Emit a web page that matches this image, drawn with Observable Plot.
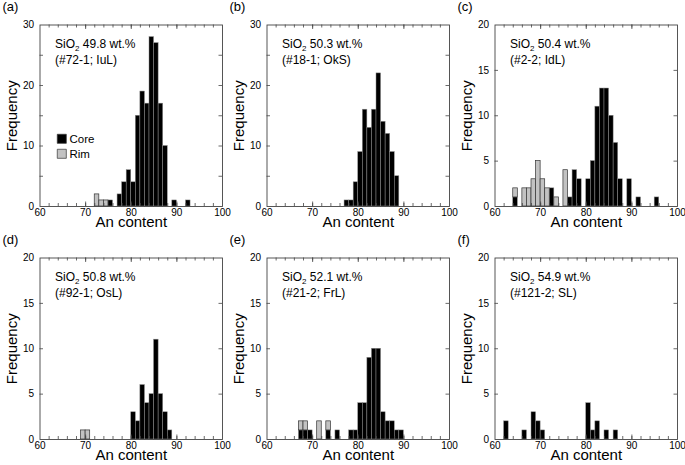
<!DOCTYPE html>
<html><head><meta charset="utf-8">
<script src="https://cdn.jsdelivr.net/npm/d3@7"></script>
<script src="https://cdn.jsdelivr.net/npm/@observablehq/plot@0.6"></script>
<style>
body{margin:0;background:#fff}
#chart{position:relative;width:685px;height:465px;font-family:"Liberation Sans",Arial,Helvetica,sans-serif}
#chart svg{position:absolute}
</style>
</head><body><div id="chart"></div>
<script>
// ---- data ----
const panelLetters = ["(a)", "(b)", "(c)", "(d)", "(e)", "(f)"];
const sio2 = ["49.8", "50.3", "50.4", "50.8", "52.1", "54.9"];
const samples = ["#72-1; IuL", "#18-1; OkS", "#2-2; IdL", "#92-1; OsL", "#21-2; FrL", "#121-2; SL"];
const yMax = [30, 30, 20, 20, 20, 20];
const yTickLabels30 = [0, 10, 20, 30];
const yTickLabels20 = [0, 5, 10, 15, 20];
const yTickMarks30 = [5, 10, 15, 20, 25];
const yTickMarks20 = [5, 10, 15];
const xTickLabels = [60, 70, 80, 90, 100];
const xTickMarks = [62, 64, 66, 68, 70, 72, 74, 76, 78, 80, 82, 84, 86, 88, 90, 92, 94, 96, 98];
const xMajorMarks = [70, 80, 90];
const legendLabels = ["Core", "Rim"];

// [bin start (An), count]; bins are 1 An unit wide
const coreA = [[75,1],[77,2],[78,4],[79,6],[80,4],[81,15],[82,19],[83,17],[84,28],[85,27],[86,17],[87,10],[89,1],[92,1]];
const rimA  = [[72,2],[73,1],[74,1]];
const coreB = [[77,1],[78,1],[79,4],[80,9],[81,16],[82,13],[83,16],[84,22],[85,14],[86,12],[87,9],[88,5]];
const rimB  = [];
const coreC = [[64,1],[72,2],[76,1],[77,4],[78,3],[80,3],[81,5],[82,11],[83,13],[84,13],[85,10],[86,7],[87,3],[89,3],[91,1],[95,1]];
const rimC  = [[64,1],[66,2],[67,2],[68,3],[69,5],[70,3],[71,2],[73,1],[75,4]];
const coreD = [[80,3],[81,2],[82,6],[83,4],[84,5],[85,11],[86,5],[87,3],[88,1]];
const rimD  = [[69,1],[70,1]];
const coreE = [[67,1],[68,1],[69,1],[73,1],[75,1],[78,1],[79,1],[80,4],[81,4],[82,9],[83,10],[84,10],[85,3],[86,2],[87,2],[88,1],[89,1]];
const rimE  = [[67,1],[68,1],[71,2],[73,1]];
const coreF = [[62,2],[66,1],[68,3],[69,2],[70,1],[80,4],[81,1],[82,2],[84,1],[86,1]];
const rimF  = [];

const cores = [coreA, coreB, coreC, coreD, coreE, coreF];
const rims = [rimA, rimB, rimC, rimD, rimE, rimF];

// ---- layout ----
const svgLeft = [0, 226.5, 455];
const svgTop = [0, 233];
const SW = 228, SH = 232, ML = 39.5, MR = 6, MT = 24.5, MB = 26;
const FW = SW - ML - MR, FH = SH - MT - MB;
const font = '"Liberation Sans", Arial, Helvetica, sans-serif';
const container = document.getElementById("chart");

for (let i = 0; i < 6; i++) {
  const core = cores[i];
  const coreMap = new Map(core);
  const rim = rims[i].map(([b, n]) => {
    const c = coreMap.get(b) || 0;
    return {b, y1: c, y2: c + n};
  });
  const big = yMax[i] === 30;
  const yLabs = big ? yTickLabels30 : yTickLabels20;
  const yMarks = big ? yTickMarks30 : yTickMarks20;
  const tickStroke = "#444";
  const marks = [
    Plot.rect(core, {x1: d => d[0], x2: d => d[0] + 1, y1: 0, y2: d => d[1], fill: "black", stroke: "#8c8c8c", strokeWidth: 0.5}),
    Plot.rect(rim, {x1: "b", x2: d => d.b + 1, y1: "y1", y2: "y2", fill: "#c2c2c2", stroke: "#333", strokeWidth: 0.7}),
    // inward ticks
    Plot.tickX(xTickMarks, {x: d => d, insetTop: FH - 3, stroke: tickStroke, strokeWidth: 0.8}),
    Plot.tickX(xTickMarks, {x: d => d, insetBottom: FH - 3, stroke: tickStroke, strokeWidth: 0.8}),
    Plot.tickX(xMajorMarks, {x: d => d, insetTop: FH - 4.5, stroke: tickStroke, strokeWidth: 0.8}),
    Plot.tickX(xMajorMarks, {x: d => d, insetBottom: FH - 4.5, stroke: tickStroke, strokeWidth: 0.8}),
    Plot.tickY(yMarks, {y: d => d, insetRight: FW - 3.5, stroke: tickStroke, strokeWidth: 0.8}),
    Plot.tickY(yMarks, {y: d => d, insetLeft: FW - 3.5, stroke: tickStroke, strokeWidth: 0.8}),
    Plot.frame({stroke: "#444", strokeWidth: 0.9}),
    Plot.axisX({ticks: xTickLabels, tickSize: 0, tickPadding: 2, label: null, fontSize: 10}),
    Plot.axisY({ticks: yLabs, tickSize: 0, tickPadding: 6, label: null, fontSize: 10}),
    Plot.text(["Frequency"], {x: null, y: null, text: d => d, frameAnchor: "left", textAnchor: "middle", lineAnchor: "middle", rotate: -90, dx: -28, fontSize: 15}),
    Plot.text(["An content"], {x: null, y: null, text: d => d, frameAnchor: "bottom", textAnchor: "middle", lineAnchor: "bottom", dy: 20.5, fontSize: 15}),
    Plot.text([panelLetters[i]], {x: null, y: null, text: d => d, frameAnchor: "top-left", textAnchor: "start", lineAnchor: "bottom", dx: -37.5, dy: -14, fontSize: 13}),
    Plot.text([sio2[i]], {x: null, y: null, text: d => "SiO2 " + d + " wt.%", frameAnchor: "top-left", textAnchor: "start", lineAnchor: "bottom", dx: 15, dy: 22.5, fontSize: 12}),
    Plot.text(["(" + samples[i] + ")"], {x: null, y: null, text: d => d, frameAnchor: "top-left", textAnchor: "start", lineAnchor: "bottom", dx: 15, dy: 38.5, fontSize: 12})
  ];
  if (i === 0) {
    marks.push(
      Plot.dot([legendLabels[0]], {x: null, y: null, frameAnchor: "top-left", dx: 21.8, dy: 113.8, symbol: "square", r: 5.1, fill: "black", stroke: "#333", strokeWidth: 0.7}),
      Plot.dot([legendLabels[1]], {x: null, y: null, frameAnchor: "top-left", dx: 21.8, dy: 128.8, symbol: "square", r: 5.1, fill: "#c2c2c2", stroke: "#333", strokeWidth: 0.7}),
      Plot.text([legendLabels[0]], {x: null, y: null, text: d => d, frameAnchor: "top-left", textAnchor: "start", lineAnchor: "bottom", dx: 29.5, dy: 118.2, fontSize: 11.5}),
      Plot.text([legendLabels[1]], {x: null, y: null, text: d => d, frameAnchor: "top-left", textAnchor: "start", lineAnchor: "bottom", dx: 29.5, dy: 133.2, fontSize: 11.5})
    );
  }
  const svg = Plot.plot({
    width: SW, height: SH,
    marginLeft: ML, marginRight: MR, marginTop: MT, marginBottom: MB,
    x: {domain: [60, 100]},
    y: {domain: [0, yMax[i]]},
    style: {background: "none", overflow: "visible", fontFamily: font, color: "black"},
    marks
  });
  svg.style.left = svgLeft[i % 3] + "px";
  svg.style.top = svgTop[Math.floor(i / 3)] + "px";
  // subscript in SiO2 label
  d3.select(svg).selectAll("text").each(function () {
    const content = this.textContent;
    if (!content.startsWith("SiO2 ")) return;
    const rest = content.slice(4);
    const t = d3.select(this);
    t.text(null);
    t.append("tspan").text("SiO");
    t.append("tspan").attr("font-size", 8).attr("dy", 3).text("2");
    t.append("tspan").attr("dy", -3).text(rest);
  });
  container.appendChild(svg);
}
</script>
</body></html>
